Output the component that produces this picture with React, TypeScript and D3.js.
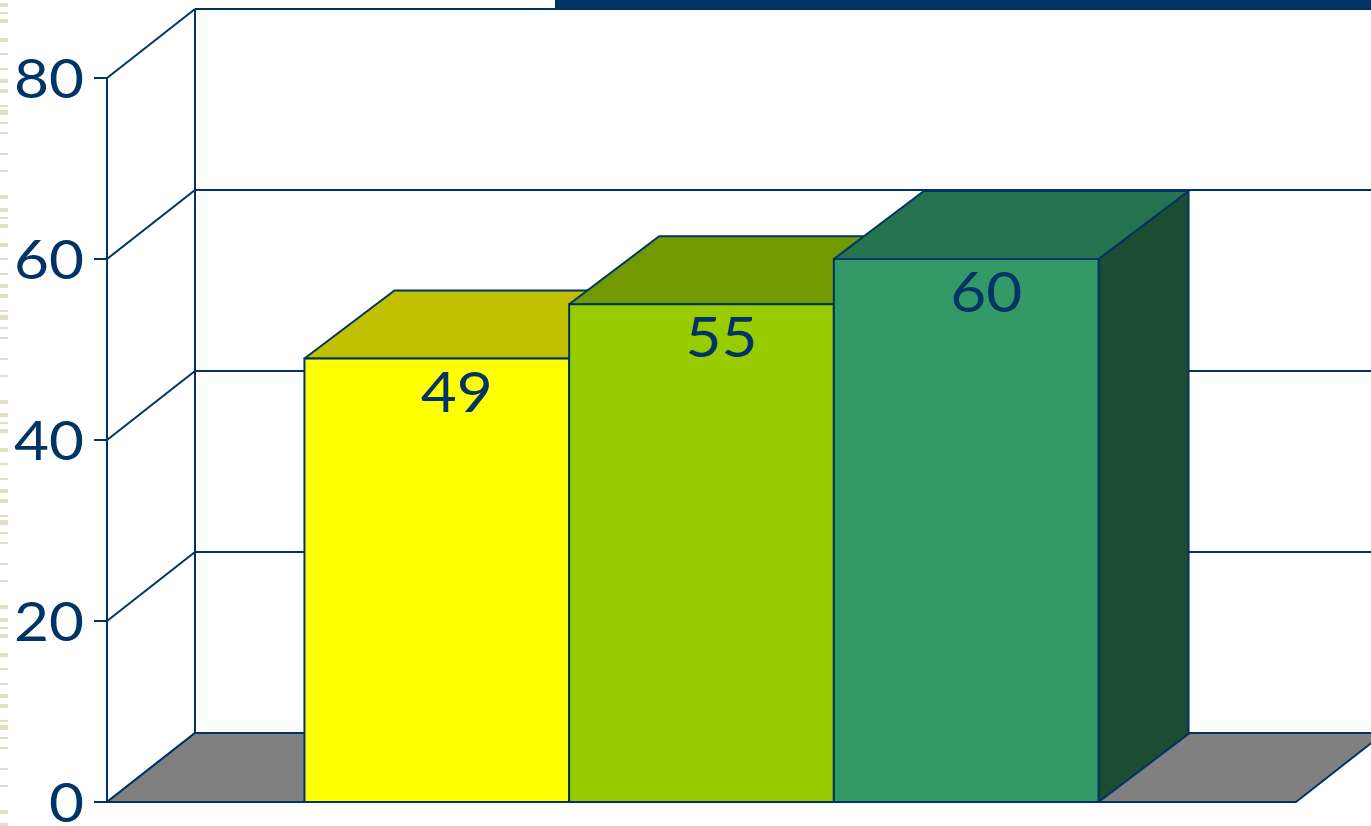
import React from "react";
import * as d3 from "d3";

const series = ["A", "B", "C"];
const values = [49, 55, 60];
const yTicks = [0, 20, 40, 60, 80];
const frontColors = ["#FFFF00", "#99CC00", "#339966"];
const topColors = ["#C0C000", "#739900", "#267350"];
const sideColors = ["#999900", "#5C7A00", "#1C4D33"];

const W = 1371;
const H = 826;
const INK = "#003366";

export default function App() {
  const y = d3.scaleLinear().domain([0, 80]).range([802, 78]);
  const x0 = 107;
  const x1 = 1296;
  const x = d3.scaleBand<string>().domain(series).range([x0, x1]).paddingInner(0).paddingOuter(0.746);
  const wdx = 88, wdy = -69; // wall depth
  const bdx = 90, bdy = -68; // bar depth
  const base = y(0);
  const pts = (a: number[][]) => a.map((p) => p.join(",")).join(" ");

  const dashes = [
    [3, 4], [12, 2], [19, 4], [38, 4], [53, 2], [68, 2], [79, 4], [89, 4],
    [105, 2], [110, 5], [122, 2], [132, 2], [153, 2], [170, 2], [195, 4],
  ];

  return (
    <div style={{ position: "fixed", left: 0, top: 0, width: W, height: H, background: "#fff" }}>
      <svg width={W} height={H} style={{ display: "block" }} fontFamily="Lato, 'Open Sans', sans-serif">
        <defs>
          <pattern id="edge" x="0" y="0" width="10" height="205" patternUnits="userSpaceOnUse">
            {dashes.map(([yy, hh], i) => (
              <rect key={i} x={0} y={yy} width={8} height={hh} fill="#E2DFC6" />
            ))}
          </pattern>
        </defs>
        <rect x={0} y={0} width={9} height={H} fill="url(#edge)" />

        {/* back wall gridlines */}
        {yTicks.map((t) => (
          <line key={"g" + t} x1={x0 + wdx} x2={W + 20} y1={y(t) + wdy} y2={y(t) + wdy} stroke={INK} strokeWidth={2} />
        ))}
        <line x1={x0 + wdx} x2={x0 + wdx} y1={y(80) + wdy} y2={y(0) + wdy} stroke={INK} strokeWidth={2} />
        {/* side wall diagonals */}
        {yTicks.map((t) => (
          <line key={"d" + t} x1={x0} y1={y(t)} x2={x0 + wdx} y2={y(t) + wdy} stroke={INK} strokeWidth={2} />
        ))}
        {/* floor */}
        <polygon
          points={pts([[x0, base], [x0 + wdx, base + wdy], [x1 + wdx, base + wdy], [x1, base]])}
          fill="#808080"
          stroke={INK}
          strokeWidth={2}
          strokeLinejoin="round"
        />

        {/* bars */}
        {series.map((s, i) => {
          const bx = x(s)!;
          const bw = x.bandwidth();
          const top = y(values[i]);
          return (
            <g key={s}>
              <polygon
                points={pts([[bx + bw, top], [bx + bw + bdx, top + bdy], [bx + bw + bdx, base + bdy], [bx + bw, base]])}
                fill={sideColors[i]}
                stroke={INK}
                strokeWidth={2}
                strokeLinejoin="round"
              />
              <polygon
                points={pts([[bx, top], [bx + bdx, top + bdy], [bx + bw + bdx, top + bdy], [bx + bw, top]])}
                fill={topColors[i]}
                stroke={INK}
                strokeWidth={2}
                strokeLinejoin="round"
              />
              <rect x={bx} y={top} width={bw} height={base - top} fill={frontColors[i]} stroke={INK} strokeWidth={2} />
            </g>
          );
        })}
        {series.map((s, i) => (
          <text
            key={"l" + s}
            x={x(s)! + x.bandwidth() / 2 + 20}
            y={y(values[i]) + 53}
            textAnchor="middle"
            fontSize={57}
            fill={INK}
            textLength={String(values[i]).length * 36}
            lengthAdjust="spacingAndGlyphs"
          >
            {values[i]}
          </text>
        ))}

        {/* front axis */}
        <line x1={x0} x2={x0} y1={y(80)} y2={y(0)} stroke={INK} strokeWidth={2} />
        {yTicks.map((t) => (
          <g key={"t" + t}>
            <line x1={x0 - 13} x2={x0} y1={y(t)} y2={y(t)} stroke={INK} strokeWidth={2} />
            <text
              x={84}
              y={y(t) + 20}
              textAnchor="end"
              fontSize={55}
              fill={INK}
              textLength={String(t).length * 35}
              lengthAdjust="spacingAndGlyphs"
            >
              {t}
            </text>
          </g>
        ))}

        {/* top decoration bar */}
        <rect x={555} y={0} width={W - 555} height={10} fill={INK} />
      </svg>
    </div>
  );
}
